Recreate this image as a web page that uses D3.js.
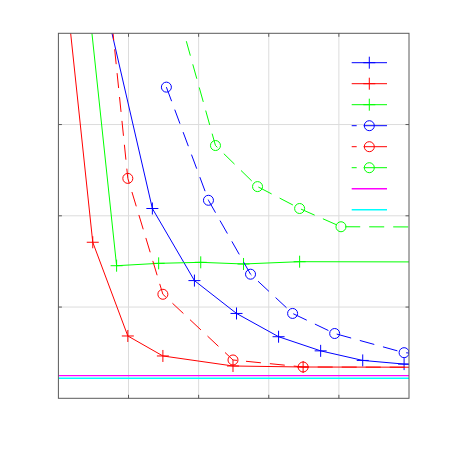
<!DOCTYPE html>
<html>
<head>
<meta charset="utf-8">
<script src="https://cdn.jsdelivr.net/npm/d3@7"></script>
<style>
  html, body { margin: 0; padding: 0; background: #fff; }
  svg { display: block; }
</style>
</head>
<body>
<svg id="chart" width="452" height="452"></svg>
<script>
// ---- data ----
const xTicks = [0, 1, 2, 3, 4, 5];
const yTicks = [0, 1, 2, 3, 4];

const blueSolidX = [0.74, 1.34, 1.94, 2.54, 3.14, 3.74, 4.34, 4.93, 5.53];
const blueSolidY = [4.08, 2.08, 1.29, 0.93, 0.675, 0.52, 0.415, 0.375, 0.36];

const redSolidX = [0.0, 0.49, 0.99, 1.49, 2.49, 3.49, 5.5];
const redSolidY = [5.27, 1.71, 0.683, 0.464, 0.354, 0.343, 0.34];

const greenSolidX = [0.23, 0.83, 1.43, 2.03, 2.64, 3.44, 5.5];
const greenSolidY = [5.8, 1.453, 1.479, 1.49, 1.472, 1.497, 1.494];

const blueDashX = [1.54, 2.14, 2.74, 3.34, 3.94, 4.93, 5.5];
const blueDashY = [3.41, 2.17, 1.36, 0.93, 0.71, 0.50, 0.47];

const redDashX = [0.49, 0.99, 1.49, 2.49, 3.49, 5.5];
const redDashY = [6.18, 2.41, 1.14, 0.42, 0.343, 0.34];

const greenDashX = [1.64, 2.24, 2.84, 3.44, 4.03, 5.5];
const greenDashY = [4.42, 2.77, 2.32, 2.08, 1.88, 1.877];

const magentaX = [0, 5];
const magentaY = [0.248, 0.248];
const cyanX = [0, 5];
const cyanY = [0.219, 0.219];

const seriesList = [
  {x: blueSolidX,  y: blueSolidY,  color: "#0000ff", dash: null, marker: "plus"},
  {x: redSolidX,   y: redSolidY,   color: "#ff0000", dash: null, marker: "plus"},
  {x: greenSolidX, y: greenSolidY, color: "#00ff00", dash: null, marker: "plus"},
  {x: blueDashX,   y: blueDashY,   color: "#0000ff", dash: "15,9", marker: "circle"},
  {x: redDashX,    y: redDashY,    color: "#ff0000", dash: "15,9", marker: "circle"},
  {x: greenDashX,  y: greenDashY,  color: "#00ff00", dash: "15,9", marker: "circle"},
  {x: magentaX,    y: magentaY,    color: "#ff00ff", dash: null, marker: null},
  {x: cyanX,       y: cyanY,       color: "#00ffff", dash: null, marker: null}
];

// ---- layout ----
const L = 58.4, R = 409, T = 33.3, B = 398.3;
const x = d3.scaleLinear().domain([0, 5]).range([L, R]);
const y = d3.scaleLinear().domain([0, 4]).range([B, T]);

const svg = d3.select("#chart");

svg.append("defs").append("clipPath").attr("id", "clip")
  .append("rect").attr("x", L).attr("y", T).attr("width", R - L).attr("height", B - T);

// grid
const grid = svg.append("g");
grid.selectAll("line.gx").data(xTicks.slice(1, -1)).join("line")
  .attr("x1", d => x(d)).attr("x2", d => x(d)).attr("y1", T).attr("y2", B)
  .attr("stroke", "#dcdcdc").attr("stroke-width", 1);
grid.selectAll("line.gy").data(yTicks.slice(1, -1)).join("line")
  .attr("y1", d => y(d)).attr("y2", d => y(d)).attr("x1", L).attr("x2", R)
  .attr("stroke", "#dcdcdc").attr("stroke-width", 1);

// series
const plot = svg.append("g").attr("clip-path", "url(#clip)");
const line = d3.line().x(d => x(d[0])).y(d => y(d[1]));

function drawMarker(g, kind, cx, cy, color) {
  if (kind === "plus") {
    g.append("line").attr("x1", cx - 6).attr("x2", cx + 6).attr("y1", cy).attr("y2", cy)
      .attr("stroke", color).attr("stroke-width", 1);
    g.append("line").attr("x1", cx).attr("x2", cx).attr("y1", cy - 6).attr("y2", cy + 6)
      .attr("stroke", color).attr("stroke-width", 1);
  } else if (kind === "circle") {
    g.append("circle").attr("cx", cx).attr("cy", cy).attr("r", 5)
      .attr("fill", "none").attr("stroke", color).attr("stroke-width", 1);
  }
}

seriesList.forEach(s => {
  const pts = s.x.map((v, i) => [v, s.y[i]]);
  plot.append("path").datum(pts).attr("d", line)
    .attr("fill", "none").attr("stroke", s.color)
    .attr("stroke-width", s.marker ? 1 : 1.4)
    .attr("stroke-dasharray", s.dash);
  if (s.marker) {
    pts.forEach(p => drawMarker(plot, s.marker, x(p[0]), y(p[1]), s.color));
  }
});

// axes box + inward ticks
const ax = svg.append("g");
ax.append("rect").attr("x", L).attr("y", T).attr("width", R - L).attr("height", B - T)
  .attr("fill", "none").attr("stroke", "#5a5a5a").attr("stroke-width", 1);
const tl = 3.5;
xTicks.slice(1, -1).forEach(t => {
  ax.append("line").attr("x1", x(t)).attr("x2", x(t)).attr("y1", B).attr("y2", B - tl).attr("stroke", "#5a5a5a");
  ax.append("line").attr("x1", x(t)).attr("x2", x(t)).attr("y1", T).attr("y2", T + tl).attr("stroke", "#5a5a5a");
});
yTicks.slice(1, -1).forEach(t => {
  ax.append("line").attr("y1", y(t)).attr("y2", y(t)).attr("x1", L).attr("x2", L + tl).attr("stroke", "#5a5a5a");
  ax.append("line").attr("y1", y(t)).attr("y2", y(t)).attr("x1", R).attr("x2", R - tl).attr("stroke", "#5a5a5a");
});

// legend (no labels)
const lg = svg.append("g");
const legX1 = 351.7, legX2 = 387, legXM = 369.3, legY0 = 62.7, legDY = 21;
seriesList.forEach((s, i) => {
  const ly = legY0 + i * legDY;
  lg.append("line").attr("x1", legX1).attr("x2", legX2).attr("y1", ly).attr("y2", ly)
    .attr("stroke", s.color).attr("stroke-width", s.marker ? 1 : 1.4)
    .attr("stroke-dasharray", s.dash ? "5,7,30" : null);
  if (s.marker) drawMarker(lg, s.marker, legXM, ly, s.color);
});
</script>
</body>
</html>
